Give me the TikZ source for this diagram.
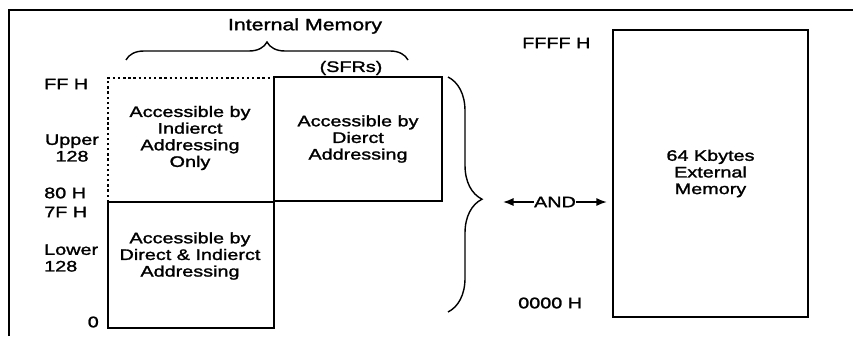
\documentclass[tikz,border=0pt]{standalone}
\usepackage{fontspec}
\setmainfont{Liberation Sans}[FakeStretch=1.3,FakeBold=1.6]
\usetikzlibrary{arrows.meta,calc,decorations.pathreplacing}

\tikzset{
  membox/.style={draw,line width=2.5pt,inner sep=0},
  dotbdr/.style={line width=2.5pt,dash pattern=on 2pt off 2.4pt},
  frame/.style={line width=1.8pt},
  lbl/.style={anchor=west,inner sep=0},
  txt/.style={align=center,inner sep=0},
  brc/.style={line width=1.2pt,decorate},
  arr/.style={-{Latex[length=9pt,width=7pt]},line width=1.4pt}
}

\begin{document}
\begin{tikzpicture}[x=0.03cm,y=-0.03cm,font=\fontsize{13}{14.2}\selectfont]
\useasboundingbox (0,0) rectangle (853,336);

% scan frame
\draw[frame] (9,336) -- (9,10) -- (853,10);

% internal memory
\draw[dotbdr] (108,202) -- (108,78) -- (274,78);
\node[membox,minimum width=4.98cm,minimum height=3.78cm] (lower) at (191,265) {};
\node[membox,minimum width=5.04cm,minimum height=3.72cm,align=center] (sfr) at (358,139)
  {Accessible by\\Dierct\\Addressing};

\node[txt] (uptxt) at (190,138) {Accessible by\\Indierct\\Addressing\\Only};
\node[txt] (lowtxt) at (190,256) {Accessible by\\Direct \& Indierct\\Addressing};

% address labels
\node[lbl] (ff) at (44,84) {FF H};
\node[txt] (upper) at (72,148) {Upper\\128};
\node[lbl] (eighty) at (44,193) {80 H};
\node[lbl] (sevenf) at (44,212) {7F H};
\node[lbl,align=left] (lowlbl) at (44,258) {Lower\\128};
\node[anchor=east,inner sep=0] (zero) at (99,322) {0};

\node[txt,font=\fontsize{14}{16}\selectfont] (intmem) at (305,26) {Internal Memory};
\node[txt] (sfrs) at (351,68) {(SFRs)};

% braces
\draw[brc,decoration={brace,amplitude=0.54cm,aspect=0.5}] (126,60) -- (408,60);
\draw[brc,decoration={brace,amplitude=1.02cm,aspect=0.52}] (448,77) -- (448,312);

% external memory
\node[membox,minimum width=5.85cm,minimum height=8.61cm,align=center] (ext) at (710.5,173.5)
  {64 Kbytes\\External\\Memory};
\node[lbl] (ffff) at (522,43) {FFFF H};
\node[lbl] (zeroh) at (518,303) {0000 H};

% AND arrows
\node[inner sep=0] (and) at (555,202) {AND};
\coordinate (andl) at (503,202);
\draw[arr] (and.west) -- (andl);
\draw[arr,shorten >=4pt] (and.east) -- (and.east -| ext.west);

\end{tikzpicture}
\end{document}
